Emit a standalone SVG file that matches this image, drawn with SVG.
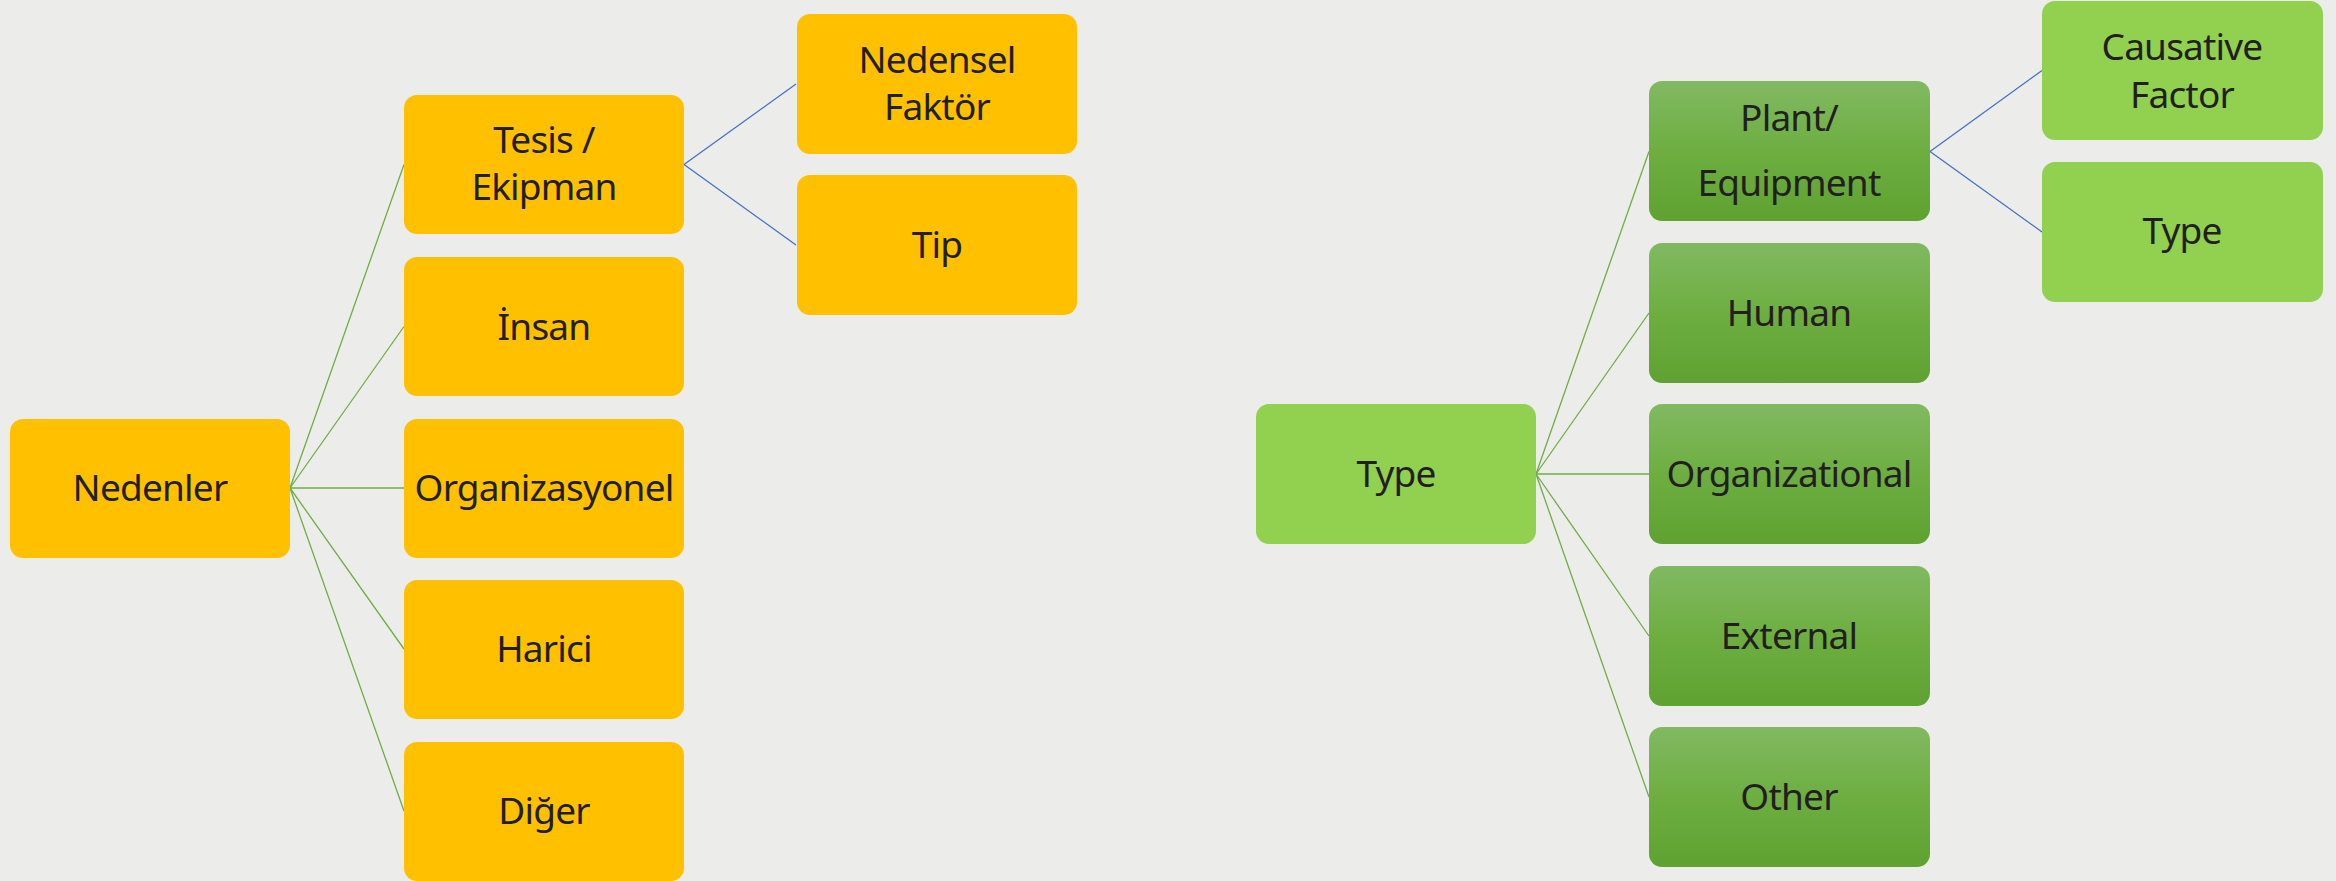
<svg xmlns="http://www.w3.org/2000/svg" width="2336" height="881" viewBox="0 0 2336 881">
<style>
.o{fill:#FFC000}
.g{fill:#92D050}
.gg{fill:url(#grad)}
text{font-family:"Noto Sans","Open Sans","Liberation Sans",sans-serif;font-size:37px;letter-spacing:-0.8px;fill:#231F20;text-anchor:middle}
.lg{stroke:#70AD47;stroke-width:1.3;fill:none}
.lb{stroke:#4472C4;stroke-width:1.3;fill:none}
</style>
<defs>
<linearGradient id="grad" x1="0" y1="0" x2="0" y2="1">
<stop offset="0" stop-color="#81B962"/>
<stop offset="0.5" stop-color="#6EAE41"/>
<stop offset="1" stop-color="#5FA231"/>
</linearGradient>
</defs>
<rect width="2336" height="881" fill="#ECECEA"/>
<g id="connectors">
<path class="lg" d="M290,488 L404,164.5 M290,488 L404,326.5 M290,488 L404,488 M290,488 L404,649 M290,488 L404,811"/>
<path class="lb" d="M684,164.5 L796,84 M684,164.5 L796,245"/>
<path class="lg" d="M1536,474 L1649,151.5 M1536,474 L1649,313 M1536,474 L1649,474 M1536,474 L1649,636 M1536,474 L1649,797"/>
<path class="lb" d="M1930,151.5 L2042,70.5 M1930,151.5 L2042,232"/>
</g>
<g id="nedenler"><rect class="o" x="10" y="419" width="280" height="139" rx="13"/><text x="150" y="501">Nedenler</text></g>
<g id="tesis"><rect class="o" x="404" y="95" width="280" height="139" rx="13"/><text x="544" y="153">Tesis /</text><text x="544" y="200">Ekipman</text></g>
<g id="insan"><rect class="o" x="404" y="257" width="280" height="139" rx="13"/><text x="544" y="340">İnsan</text></g>
<g id="organizasyonel"><rect class="o" x="404" y="419" width="280" height="139" rx="13"/><text x="544" y="501">Organizasyonel</text></g>
<g id="harici"><rect class="o" x="404" y="580" width="280" height="139" rx="13"/><text x="544" y="662">Harici</text></g>
<g id="diger"><rect class="o" x="404" y="742" width="280" height="139" rx="13"/><text x="544" y="824">Diğer</text></g>
<g id="nedensel"><rect class="o" x="797" y="14" width="280" height="140" rx="13"/><text x="937" y="73">Nedensel</text><text x="937" y="120">Faktör</text></g>
<g id="tip"><rect class="o" x="797" y="175" width="280" height="140" rx="13"/><text x="937" y="258">Tip</text></g>
<g id="type-root"><rect class="g" x="1256" y="404" width="280" height="140" rx="13"/><text x="1396" y="487">Type</text></g>
<g id="plant"><rect class="gg" x="1649" y="81" width="281" height="140" rx="13"/><text x="1789" y="131">Plant/</text><text x="1789" y="196">Equipment</text></g>
<g id="human"><rect class="gg" x="1649" y="243" width="281" height="140" rx="13"/><text x="1789" y="326">Human</text></g>
<g id="organizational"><rect class="gg" x="1649" y="404" width="281" height="140" rx="13"/><text x="1789" y="487">Organizational</text></g>
<g id="external"><rect class="gg" x="1649" y="566" width="281" height="140" rx="13"/><text x="1789" y="649">External</text></g>
<g id="other"><rect class="gg" x="1649" y="727" width="281" height="140" rx="13"/><text x="1789" y="810">Other</text></g>
<g id="causative"><rect class="g" x="2042" y="1" width="281" height="139" rx="13"/><text x="2182" y="60">Causative</text><text x="2182" y="108">Factor</text></g>
<g id="type-sub"><rect class="g" x="2042" y="162" width="281" height="140" rx="13"/><text x="2182" y="244">Type</text></g>
</svg>
